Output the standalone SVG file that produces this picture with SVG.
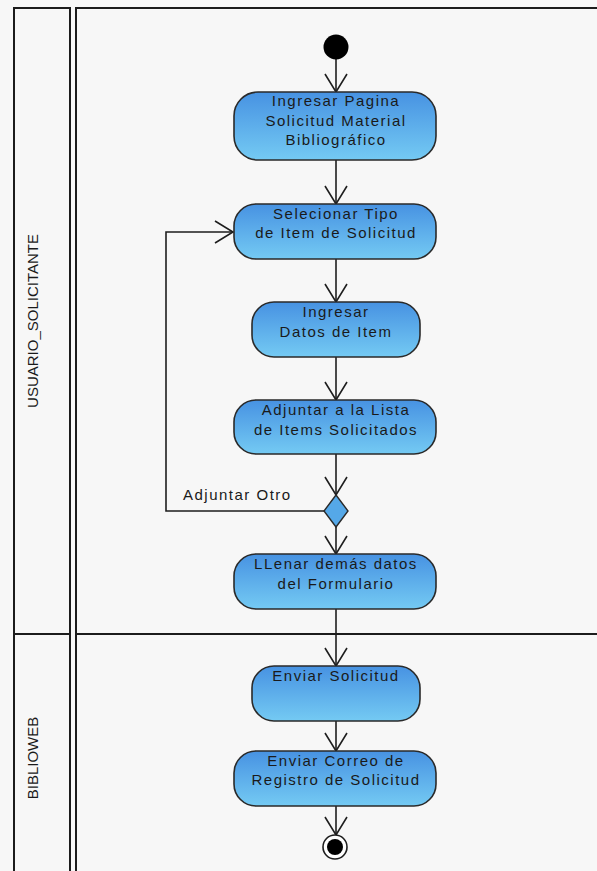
<svg xmlns="http://www.w3.org/2000/svg" width="597" height="871" viewBox="0 0 597 871">
<style>
.lane{fill:none;stroke:#1c1c1c;stroke-width:2}
.node{fill:url(#g);stroke:#2a2a2a;stroke-width:1.6}
.t{font-family:"Liberation Sans",Arial,sans-serif;font-size:15px;fill:#1a1a1a;text-anchor:middle;letter-spacing:1.5px}
.lbl{font-family:"Liberation Sans",Arial,sans-serif;font-size:15px;fill:#1a1a1a;letter-spacing:1.5px}
.lt{font-family:"Liberation Sans",Arial,sans-serif;font-size:15px;fill:#1a1a1a;text-anchor:middle}
.c{fill:none;stroke:#1e1e1e;stroke-width:1.6;marker-end:url(#a)}
</style>
<defs>
<linearGradient id="g" x1="0" y1="0" x2="0" y2="1">
<stop offset="0" stop-color="#4792e2"/>
<stop offset="1" stop-color="#74caf3"/>
</linearGradient>
<marker id="a" markerUnits="userSpaceOnUse" markerWidth="30" markerHeight="30" refX="0" refY="0" orient="auto" overflow="visible">
<path d="M-18,-11 L0,0 L-18,11" fill="none" stroke="#1e1e1e" stroke-width="1.6"/>
</marker>
</defs>
<rect x="0" y="0" width="597" height="871" fill="#f7f7f7"/>
<g id="lanes">
<rect class="lane" x="14" y="8" width="56" height="900"/>
<rect class="lane" x="76" y="8" width="600" height="900"/>
<line class="lane" x1="14" y1="634" x2="70" y2="634"/>
<line class="lane" x1="76" y1="634" x2="600" y2="634"/>
<text class="lt" transform="translate(38,321) rotate(-90)">USUARIO_SOLICITANTE</text>
<text class="lt" transform="translate(38,758) rotate(-90)">BIBLIOWEB</text>
</g>
<g id="connectors">
<path class="c" d="M336,59 V92"/>
<path class="c" d="M336,160 V204"/>
<path class="c" d="M336,259 V302"/>
<path class="c" d="M336,357 V400"/>
<path class="c" d="M336,454 V495"/>
<path class="c" d="M336,527 V554"/>
<path class="c" d="M324,511 H166 V232 H233"/>
<path class="c" d="M336,609 V666"/>
<path class="c" d="M336,721 V751"/>
<path class="c" d="M336,806 V835"/>
<text class="lbl" x="183" y="500">Adjuntar Otro</text>
</g>
<g id="start"><circle cx="336" cy="47" r="12.5" fill="#000"/></g>
<g id="n1"><rect class="node" x="234" y="92" width="202" height="68" rx="24"/>
<text class="t" x="336" y="106">Ingresar Pagina</text>
<text class="t" x="336" y="126">Solicitud Material</text>
<text class="t" x="336" y="145">Bibliográfico</text></g>
<g id="n2"><rect class="node" x="234" y="204" width="202" height="55" rx="22"/>
<text class="t" x="336" y="219">Selecionar Tipo</text>
<text class="t" x="336" y="238">de Item de Solicitud</text></g>
<g id="n3"><rect class="node" x="252" y="302" width="168" height="55" rx="22"/>
<text class="t" x="336" y="317">Ingresar</text>
<text class="t" x="336" y="337">Datos de Item</text></g>
<g id="n4"><rect class="node" x="234" y="400" width="202" height="54" rx="22"/>
<text class="t" x="336" y="415">Adjuntar a la Lista</text>
<text class="t" x="336" y="435">de Items Solicitados</text></g>
<g id="decision"><path d="M336,495 L348,511 L336,527 L324,511 Z" fill="#55a8e8" stroke="#2a2a2a" stroke-width="1.4"/></g>
<g id="n5"><rect class="node" x="234" y="554" width="202" height="55" rx="22"/>
<text class="t" x="336" y="569">LLenar demás datos</text>
<text class="t" x="336" y="589">del Formulario</text></g>
<g id="n6"><rect class="node" x="252" y="666" width="168" height="55" rx="22"/>
<text class="t" x="336" y="681">Enviar Solicitud</text></g>
<g id="n7"><rect class="node" x="234" y="751" width="202" height="55" rx="22"/>
<text class="t" x="336" y="766">Enviar Correo de</text>
<text class="t" x="336" y="785">Registro de Solicitud</text></g>
<g id="end"><circle cx="335" cy="847" r="12" fill="#fff" stroke="#1e1e1e" stroke-width="1.6"/><circle cx="335" cy="847" r="8" fill="#000"/></g>
</svg>
